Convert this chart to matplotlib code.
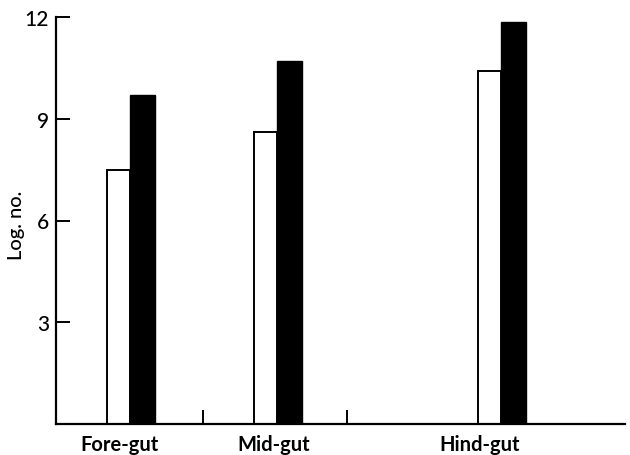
import matplotlib
matplotlib.use("Agg")
import matplotlib.pyplot as plt

categories = ["Fore-gut", "Mid-gut", "Hind-gut"]
white_vals = [7.5, 8.6, 10.4]
black_vals = [9.7, 10.7, 11.85]
yticks = [3, 6, 9, 12]

# layout (axis units ~ pixels from the y axis)
group_pos = [74, 221, 445]
label_pos = [63, 218, 424]
sep_ticks = [147, 291]
w_white = 23
w_black = 25

plt.rcParams['font.family'] = ['Lato', 'DejaVu Sans']

fig = plt.figure(figsize=(6.3, 4.56), dpi=100)
ax = fig.add_axes([56/630, 31/456, (625-56)/630, (425-18)/456])

ax.bar(group_pos, white_vals, width=-w_white, align='edge', color='white',
       edgecolor='black', linewidth=1.4, zorder=2)
ax.bar(group_pos, black_vals, width=w_black, align='edge', color='black',
       edgecolor='black', linewidth=1.0, zorder=2)

ax.set_xlim(0, 569)
ax.set_ylim(0, 12)
for s in ['top', 'right']:
    ax.spines[s].set_visible(False)
for s in ['left', 'bottom']:
    ax.spines[s].set_linewidth(1.6)
    ax.spines[s].set_zorder(3)

ax.set_yticks(yticks)
ax.set_yticklabels([str(v) for v in yticks], fontsize=15, fontweight='medium')
ax.tick_params(axis='y', direction='in', length=10, width=1.4, pad=5)

ax.set_xticks(label_pos)
ax.set_xticklabels(categories, fontsize=14.5, fontweight='bold')
ax.set_xticks(sep_ticks, minor=True)
ax.tick_params(axis='x', which='major', length=0, pad=7.5)
ax.tick_params(axis='x', which='minor', direction='in', length=10, width=1.4)

ax.set_ylabel("Log. no.", fontsize=14.5, fontweight='medium')
ax.yaxis.set_label_coords(-31/569, 0.49)

fig.savefig("out.png", dpi=100)
